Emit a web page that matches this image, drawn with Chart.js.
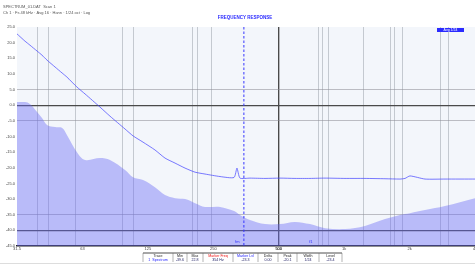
<!DOCTYPE html>
<html>
<head>
<meta charset="utf-8">
<script src="https://cdn.jsdelivr.net/npm/chart.js@4.4.1/dist/chart.umd.min.js"></script>
<style>
  html, body { margin: 0; padding: 0; background: #fff; }
  #wrap { position: relative; width: 475px; height: 264px; }
</style>
</head>
<body>
<div id="wrap"><canvas id="chart"></canvas></div>
<script>
// frequency points (Hz) shared by both series
const freqs = [32, 34.8, 36.7, 39.6, 41.7, 44, 47.9, 51.6, 54.3, 60.4, 65.8, 77.1, 85.7, 100.5, 109.4,
  121.6, 138, 153.5, 170.7, 189.8, 211, 234.5, 274.9, 318.9, 329, 339.7, 377.6, 442.8, 519, 608,
  713, 836, 1033, 1277, 1579, 1850, 1951, 2057, 2412, 2980, 4096];

// filled background spectrum (dB)
const floorLevel = [1.0, 1.0, 0.4, -2.2, -4.1, -6.3, -7.0, -7.3, -9.5, -15.0, -17.5, -16.9, -17.5, -20.7, -23.0,
  -23.9, -26.2, -28.7, -29.7, -30.0, -31.3, -32.5, -32.5, -33.8, -34.4, -35.1, -36.7, -38.0, -38.0, -37.3,
  -38.0, -39.3, -39.6, -38.6, -36.4, -35.1, -34.8, -34.5, -33.5, -32.2, -29.7];

// measured trace (dB)
const traceLevel = [22.8, 20.5, 19.2, 17.3, 16.0, 14.4, 12.2, 10.3, 9.0, 5.8, 3.6, -0.6, -3.5, -7.6, -9.8,
  -11.8, -14.3, -16.9, -18.5, -20.1, -21.4, -22.0, -22.8, -23.1, -20.1, -23.3, -23.3, -23.4, -23.3, -23.4,
  -23.4, -23.3, -23.4, -23.4, -23.5, -23.6, -23.4, -22.6, -23.6, -23.6, -23.6];

const markerFreq = 354;
const markerLabels = [{ text: 'fm', freq: 330 }, { text: 'f1', freq: 720 }];

const xLabelValues = [32, 64, 128, 256, 512, 1024, 2048, 4096];
const xLabelText = ['31.5', '63', '125', '250', '500', '1k', '2k', '4k'];
const xGridValues = [39.6, 44.6, 59.5, 97.4, 109.4, 206, 217, 250, 512, 780, 810, 870, 1252, 1680, 1737, 1894, 2850, 3100];

const yMin = -45;
const yMax = 25;
const yStep = 5;
const yGridValues = [5, 0, -5, -35, -40];
const yDarkValues = [0, -40];

const tableHead = ['Trace', 'Min', 'Max', 'Marker Freq', 'Marker Lvl', 'Delta', 'Peak', 'Width', 'Level'];
const tableRow = ['1  Spectrum', '-39.6', '22.8', '354 Hz', '-23.3', '0.00', '-20.1', '1/24', '-23.4'];

const FONT = '"Liberation Sans", Arial, sans-serif';

const decorations = {
  id: 'decorations',
  beforeDraw(chart) {
    const { ctx, chartArea: a } = chart;
    ctx.save();
    ctx.fillStyle = '#f3f6fb';
    ctx.fillRect(a.left, a.top, a.right - a.left, a.bottom - a.top);
    ctx.restore();
  },
  afterDraw(chart) {
    const { ctx, chartArea: a, scales } = chart;
    ctx.save();
    ctx.textBaseline = 'middle';

    // header texts
    ctx.fillStyle = '#555';
    ctx.font = `4px ${FONT}`;
    ctx.textAlign = 'left';
    ctx.fillText('SPECTRUM_01.DAT  Scan 1', 3, 7);
    ctx.fillText('Ch 1 · Fs 48 kHz · Avg 16 · Hann · 1/24 oct · Log', 3, 13);

    ctx.fillStyle = '#2a2aff';
    ctx.font = `bold 4.5px ${FONT}`;
    ctx.textAlign = 'center';
    ctx.fillText('FREQUENCY RESPONSE', 245, 18);

    // legend tag
    ctx.fillStyle = '#2b2bff';
    ctx.fillRect(437, 28, 27, 4);
    ctx.fillStyle = '#fff';
    ctx.font = `3.5px ${FONT}`;
    ctx.fillText('Avg 1/24', 450.5, 30.2);

    // marker labels
    ctx.fillStyle = '#3333ff';
    ctx.font = `4px ${FONT}`;
    markerLabels.forEach(m => {
      ctx.fillText(m.text, scales.x.getPixelForValue(m.freq), a.bottom - 4);
    });

    // table under the chart
    const cols = [143, 173, 187, 203, 233, 258, 278, 297, 319, 342];
    ctx.strokeStyle = '#222';
    ctx.lineWidth = 0.8;
    ctx.beginPath();
    ctx.moveTo(cols[0], 253);
    ctx.lineTo(cols[cols.length - 1], 253);
    ctx.stroke();
    ctx.strokeStyle = '#666';
    ctx.lineWidth = 0.5;
    cols.forEach(x => {
      ctx.beginPath();
      ctx.moveTo(x, 253);
      ctx.lineTo(x, 262);
      ctx.stroke();
    });
    ctx.font = `3.6px ${FONT}`;
    tableHead.forEach((t, i) => {
      ctx.fillStyle = i === 3 ? '#e11' : i === 4 ? '#22f' : '#222';
      ctx.fillText(t, (cols[i] + cols[i + 1]) / 2, 255.8);
    });
    tableRow.forEach((t, i) => {
      ctx.fillStyle = i === 0 ? '#22f' : '#226';
      ctx.fillText(t, (cols[i] + cols[i + 1]) / 2, 259.8);
    });
    ctx.strokeStyle = '#ddd';
    ctx.lineWidth = 1;
    ctx.beginPath();
    ctx.moveTo(0, 263.5);
    ctx.lineTo(475, 263.5);
    ctx.stroke();
    ctx.restore();
  }
};

const toPoints = values => freqs.map((f, i) => ({ x: f, y: values[i] }));

new Chart(document.getElementById('chart'), {
  type: 'line',
  data: {
    datasets: [
      {
        label: 'Marker',
        data: [{ x: markerFreq, y: yMax }, { x: markerFreq, y: yMin }],
        borderColor: '#3636ff',
        borderWidth: 1,
        borderDash: [2.5, 2],
        pointRadius: 0
      },
      {
        label: 'Trace',
        data: toPoints(traceLevel),
        borderColor: 'rgba(70,70,255,0.8)',
        borderWidth: 0.9,
        pointRadius: 0,
        tension: 0.2
      },
      {
        label: 'Floor',
        data: toPoints(floorLevel),
        borderWidth: 0,
        borderColor: 'rgba(0,0,0,0)',
        backgroundColor: 'rgba(105,105,245,0.42)',
        fill: 'start',
        pointRadius: 0,
        tension: 0.35
      }
    ]
  },
  options: {
    responsive: true,
    maintainAspectRatio: false,
    animation: false,
    layout: { padding: { top: 27, bottom: 12, left: 0, right: 0 } },
    plugins: { legend: { display: false }, tooltip: { enabled: false } },
    scales: {
      x: {
        type: 'logarithmic',
        min: 32,
        max: 4096,
        afterBuildTicks: scale => {
          scale.ticks = [...xLabelValues, ...xGridValues].sort((p, q) => p - q).map(v => ({ value: v }));
        },
        afterFit: scale => {
          scale.height = 6;
          scale.paddingLeft = 0;
          scale.paddingRight = 0;
        },
        ticks: {
          autoSkip: false,
          maxRotation: 0,
          padding: 0,
          color: '#444',
          font: { size: 4, family: FONT },
          callback: value => {
            const i = xLabelValues.indexOf(value);
            return i >= 0 ? xLabelText[i] : '';
          }
        },
        grid: {
          drawTicks: false,
          color: ctx => {
            const v = ctx.tick && ctx.tick.value;
            if (v === 512) return '#4a4a4a';
            return xGridValues.includes(v) ? 'rgba(150,155,165,0.5)' : 'rgba(0,0,0,0)';
          },
          lineWidth: ctx => (ctx.tick && ctx.tick.value === 512 ? 1.2 : 1)
        },
        border: { display: true, color: '#222', width: 1.5 }
      },
      y: {
        type: 'linear',
        min: yMin,
        max: yMax,
        afterFit: scale => { scale.width = 17; },
        ticks: {
          stepSize: yStep,
          padding: 2,
          color: '#444',
          font: { size: 4, family: FONT },
          callback: value => value.toFixed(1)
        },
        grid: {
          drawTicks: false,
          color: ctx => {
            const v = ctx.tick && ctx.tick.value;
            if (yDarkValues.includes(v)) return '#4a4a4a';
            return yGridValues.includes(v) ? 'rgba(140,140,150,0.55)' : 'rgba(0,0,0,0)';
          },
          lineWidth: ctx => (ctx.tick && yDarkValues.includes(ctx.tick.value) ? 1.2 : 1)
        },
        border: { display: false }
      }
    }
  },
  plugins: [decorations]
});
</script>
</body>
</html>
